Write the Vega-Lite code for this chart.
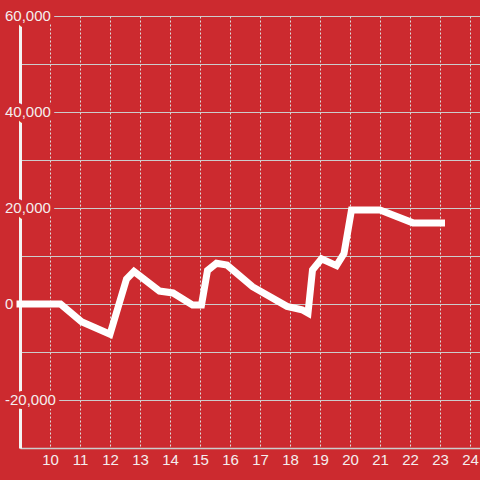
{
  "$schema": "https://vega.github.io/schema/vega-lite/v6.json",
  "width": 460,
  "height": 432,
  "autosize": {"type": "none"},
  "padding": {"left": 20, "top": 16, "right": 0, "bottom": 32},
  "background": "#cc2a2f",
  "config": {
    "view": {"stroke": null},
    "font": "Liberation Sans",
    "axisX": {
      "labelOverlap": false,
      "labelFlush": false,
      "labelBound": false,
      "labelSeparation": 0,
      "values": [10, 11, 12, 13, 14, 15, 16, 17, 18, 19, 20, 21, 22, 23, 24],
      "tickCount": 15,
      "grid": true,
      "gridColor": "#dddddd",
      "gridDash": [2, 2],
      "gridWidth": 1,
      "gridOpacity": 1,
      "domainColor": "#cccccc",
      "domainWidth": 1.5,
      "ticks": false,
      "labelPadding": 4,
      "labelFontSize": 15,
      "labelColor": "#f4eeee",
      "labelFont": "Liberation Sans",
      "title": null
    }
  },
  "datasets": {
    "series": [
      {"t": 9.0, "v": 0},
      {"t": 10.35, "v": 0},
      {"t": 11.05, "v": -3700},
      {"t": 12.0, "v": -6300},
      {"t": 12.55, "v": 5200},
      {"t": 12.8, "v": 6800},
      {"t": 13.65, "v": 2700},
      {"t": 14.1, "v": 2300},
      {"t": 14.75, "v": -200},
      {"t": 15.05, "v": -200},
      {"t": 15.25, "v": 7000},
      {"t": 15.55, "v": 8500},
      {"t": 15.9, "v": 8100},
      {"t": 16.75, "v": 3600},
      {"t": 17.9, "v": -500},
      {"t": 18.4, "v": -1200},
      {"t": 18.6, "v": -1900},
      {"t": 18.75, "v": 7100},
      {"t": 19.05, "v": 9400},
      {"t": 19.55, "v": 8000},
      {"t": 19.8, "v": 10500},
      {"t": 20.05, "v": 19600},
      {"t": 21.0, "v": 19600},
      {"t": 22.1, "v": 16900},
      {"t": 23.05, "v": 16900}
    ],
    "ylabels": [
      {"v": -20000, "label": "-20,000"},
      {"v": 0, "label": "0"},
      {"v": 20000, "label": "20,000"},
      {"v": 40000, "label": "40,000"},
      {"v": 60000, "label": "60,000"}
    ]
  },
  "layer": [
    {
      "data": {"name": "series"},
      "mark": {"type": "line", "opacity": 0},
      "encoding": {
        "x": {
          "field": "t",
          "type": "quantitative",
          "scale": {"domain": [9, 24.3333], "nice": false, "zero": false},
          "axis": {
            "title": null,
            "values": [10, 11, 12, 13, 14, 15, 16, 17, 18, 19, 20, 21, 22, 23, 24],
            "labelOverlap": false,
            "labelFontSize": 15
          }
        },
        "y": {
          "field": "v",
          "type": "quantitative",
          "scale": {"domain": [-30000, 60000], "nice": false, "zero": false},
          "axis": {
            "title": null,
            "values": [-30000, -20000, -10000, 0, 10000, 20000, 30000, 40000, 50000, 60000],
            "grid": true,
            "gridColor": "#cccccc",
            "gridWidth": 1,
            "gridOpacity": 1,
            "domain": true,
            "domainColor": "#f4f4f4",
            "domainWidth": 3,
            "ticks": false,
            "labels": false
          }
        }
      }
    },
    {
      "mark": {"type": "rule", "color": "#f4f4f4", "strokeWidth": 3},
      "encoding": {"y": {"datum": 0, "type": "quantitative"}}
    },
    {
      "data": {"name": "ylabels"},
      "mark": {
        "type": "text",
        "align": "left",
        "baseline": "middle",
        "dx": -15,
        "fontSize": 15,
        "font": "Liberation Sans",
        "fill": "#cc2a2f",
        "stroke": "#cc2a2f",
        "strokeWidth": 8,
        "strokeJoin": "round"
      },
      "encoding": {
        "x": {"datum": 9, "type": "quantitative", "axis": {"values": [10, 11, 12, 13, 14, 15, 16, 17, 18, 19, 20, 21, 22, 23, 24], "labelOverlap": false}},
        "y": {"field": "v", "type": "quantitative"},
        "text": {"field": "label"}
      }
    },
    {
      "data": {"name": "series"},
      "mark": {"type": "line", "color": "#ffffff", "strokeWidth": 7, "strokeCap": "square"},
      "encoding": {
        "x": {"field": "t", "type": "quantitative"},
        "y": {"field": "v", "type": "quantitative"}
      }
    },
    {
      "data": {"name": "ylabels"},
      "mark": {
        "type": "text",
        "align": "left",
        "baseline": "middle",
        "dx": -15,
        "fontSize": 15,
        "font": "Liberation Sans",
        "fill": "#f4eeee"
      },
      "encoding": {
        "x": {"datum": 9, "type": "quantitative", "axis": {"values": [10, 11, 12, 13, 14, 15, 16, 17, 18, 19, 20, 21, 22, 23, 24], "labelOverlap": false}},
        "y": {"field": "v", "type": "quantitative"},
        "text": {"field": "label"}
      }
    }
  ]
}
